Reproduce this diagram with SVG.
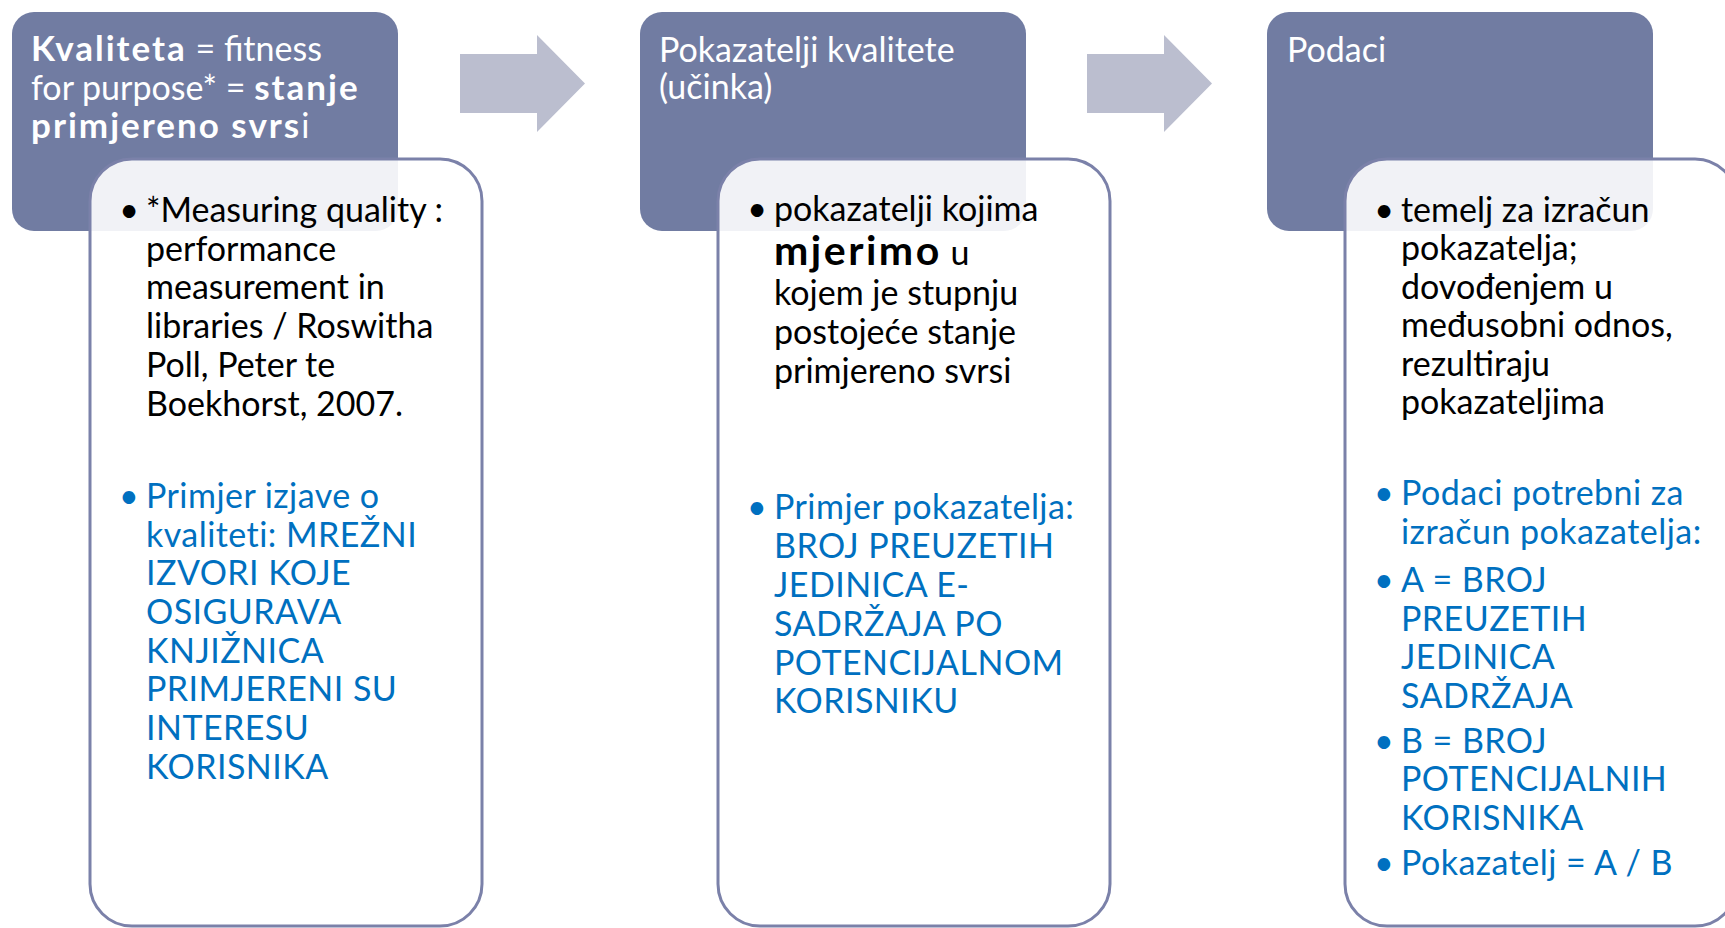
<svg xmlns="http://www.w3.org/2000/svg" width="1725" height="928" viewBox="0 0 1725 928">
<style>
.hdr{fill:#717CA2}
.card{fill:#FFFFFF;fill-opacity:0.9;stroke:#7B81A9;stroke-width:3}
.arrow{fill:#BBBECF}
text{font-family:Lato,"Liberation Sans",sans-serif;font-size:34px}
.ht{fill:#FFFFFF}
.bk{fill:#000000}
.bl{fill:#0070C0;letter-spacing:0.45px}
.hb{font-weight:bold;font-size:35px;letter-spacing:2px}
.mb{font-weight:bold;font-size:41px;letter-spacing:2.5px}
</style>
<rect width="1725" height="928" fill="#FFFFFF"/>
<g id="connectors">
<path class="arrow" d="M460 54 H537 V35 L585 83.5 L537 132 V113 H460 Z"/>
<path class="arrow" d="M1087 54 H1164 V35 L1212 83.5 L1164 132 V113 H1087 Z"/>
</g>
<g id="node1">
<rect class="hdr" x="12" y="12" width="386" height="219" rx="22"/>
<rect class="card" x="90" y="159" width="392" height="767" rx="42"/>
<text class="ht" x="31" y="61"><tspan class="hb">Kvaliteta</tspan> = fitness</text>
<text class="ht" x="31" y="100">for purpose* = <tspan class="hb">stanje</tspan></text>
<text class="ht" x="31" y="138"><tspan class="hb">primjereno svrs</tspan>i</text>
<g class="bk">
<text x="129" y="222" text-anchor="middle">•</text>
<text x="146" y="222">*Measuring quality :</text>
<text x="146" y="261">performance</text>
<text x="146" y="299">measurement in</text>
<text x="146" y="338">libraries / Roswitha</text>
<text x="146" y="377">Poll, Peter te</text>
<text x="146" y="416">Boekhorst, 2007.</text>
</g>
<g class="bl">
<text x="129" y="508" text-anchor="middle">•</text>
<text x="146" y="508">Primjer izjave o</text>
<text x="146" y="547">kvaliteti: MREŽNI</text>
<text x="146" y="585">IZVORI KOJE</text>
<text x="146" y="624">OSIGURAVA</text>
<text x="146" y="663">KNJIŽNICA</text>
<text x="146" y="701">PRIMJERENI SU</text>
<text x="146" y="740">INTERESU</text>
<text x="146" y="779">KORISNIKA</text>
</g>
</g>
<g id="node2">
<rect class="hdr" x="640" y="12" width="386" height="219" rx="22"/>
<rect class="card" x="718" y="159" width="392" height="767" rx="42"/>
<text class="ht" x="659" y="62">Pokazatelji kvalitete</text>
<text class="ht" x="659" y="99">(učinka)</text>
<g class="bk">
<text x="757" y="221" text-anchor="middle">•</text>
<text x="774" y="221">pokazatelji kojima</text>
<text x="774" y="265"><tspan class="mb">mjerimo</tspan> u</text>
<text x="774" y="305">kojem je stupnju</text>
<text x="774" y="344">postojeće stanje</text>
<text x="774" y="383">primjereno svrsi</text>
</g>
<g class="bl">
<text x="757" y="519" text-anchor="middle">•</text>
<text x="774" y="519">Primjer pokazatelja:</text>
<text x="774" y="558">BROJ PREUZETIH</text>
<text x="774" y="597">JEDINICA E-</text>
<text x="774" y="636">SADRŽAJA PO</text>
<text x="774" y="675">POTENCIJALNOM</text>
<text x="774" y="713">KORISNIKU</text>
</g>
</g>
<g id="node3">
<rect class="hdr" x="1267" y="12" width="386" height="219" rx="22"/>
<rect class="card" x="1345" y="159" width="392" height="767" rx="42"/>
<text class="ht" x="1287" y="62">Podaci</text>
<g class="bk">
<text x="1384" y="222" text-anchor="middle">•</text>
<text x="1401" y="222">temelj za izračun</text>
<text x="1401" y="260">pokazatelja;</text>
<text x="1401" y="299">dovođenjem u</text>
<text x="1401" y="337">međusobni odnos,</text>
<text x="1401" y="376">rezultiraju</text>
<text x="1401" y="414">pokazateljima</text>
</g>
<g class="bl">
<text x="1384" y="505" text-anchor="middle">•</text>
<text x="1401" y="505">Podaci potrebni za</text>
<text x="1401" y="544">izračun pokazatelja:</text>
<text x="1384" y="592" text-anchor="middle">•</text>
<text x="1401" y="592">A = BROJ</text>
<text x="1401" y="631">PREUZETIH</text>
<text x="1401" y="669">JEDINICA</text>
<text x="1401" y="708">SADRŽAJA</text>
<text x="1384" y="753" text-anchor="middle">•</text>
<text x="1401" y="753">B = BROJ</text>
<text x="1401" y="791">POTENCIJALNIH</text>
<text x="1401" y="830">KORISNIKA</text>
<text x="1384" y="875" text-anchor="middle">•</text>
<text x="1401" y="875">Pokazatelj = A / B</text>
</g>
</g>
</svg>
